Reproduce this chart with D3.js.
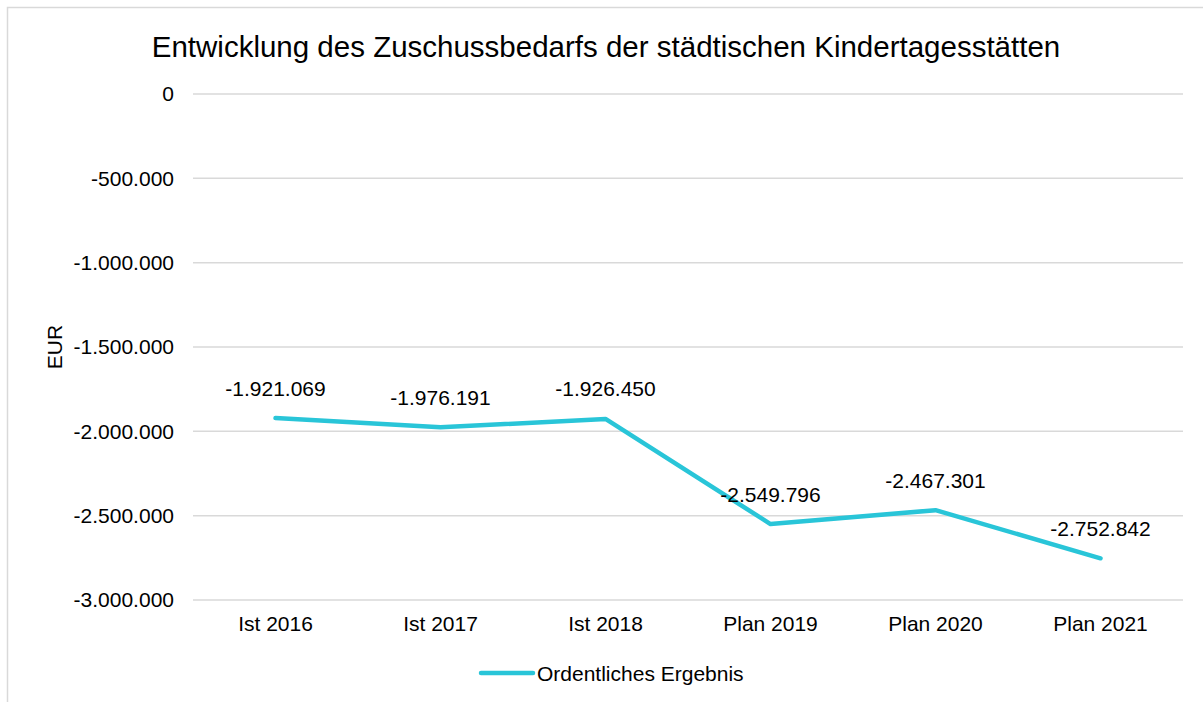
<!DOCTYPE html>
<html>
<head>
<meta charset="utf-8">
<script src="https://cdn.jsdelivr.net/npm/d3@7"></script>
<style>
  html, body { margin: 0; padding: 0; background: #fff; }
  svg text { font-family: "Liberation Sans", Arial, sans-serif; }
</style>
</head>
<body>
<svg id="chart" width="1203" height="702"></svg>
<script>
// Zuschussbedarf der städtischen Kindertagesstätten (EUR)
const categories = ["Ist 2016", "Ist 2017", "Ist 2018", "Plan 2019", "Plan 2020", "Plan 2021"];
const values = [-1921069, -1976191, -1926450, -2549796, -2467301, -2752842];
const yTicks = [0, -500000, -1000000, -1500000, -2000000, -2500000, -3000000];
const seriesName = "Ordentliches Ergebnis";
const titleText = "Entwicklung des Zuschussbedarfs der städtischen Kindertagesstätten";
const yAxisTitle = "EUR";

const svg = d3.select("#chart");
const W = 1203, H = 702;
const lineColor = "#29c5d8";
const fs = 21;

// German number format: dots for thousands
const de = d3.formatLocale({ decimal: ",", thousands: ".", grouping: [3], currency: ["", " €"], minus: "-" });
const fmt = de.format(",d");

// outer frame
svg.append("rect")
  .attr("x", 7.5).attr("y", 7.5)
  .attr("width", W + 10).attr("height", H + 10)
  .attr("fill", "#fff").attr("stroke", "#d9d9d9").attr("stroke-width", 1.5);

const plot = { left: 193, right: 1183, top: 94, bottom: 600 };

const x = d3.scaleBand().domain(categories).range([plot.left, plot.right]);
const y = d3.scaleLinear().domain([-3000000, 0]).range([plot.bottom, plot.top]);

// title
svg.append("text")
  .attr("x", 606).attr("y", 57)
  .attr("text-anchor", "middle")
  .attr("font-size", 29.5)
  .attr("fill", "#000")
  .text(titleText);

// gridlines
svg.append("g").selectAll("line")
  .data(yTicks).join("line")
  .attr("x1", plot.left).attr("x2", plot.right)
  .attr("y1", d => y(d)).attr("y2", d => y(d))
  .attr("stroke", "#d9d9d9").attr("stroke-width", 1.5);

// y axis labels
const yAxis = d3.axisLeft(y).tickValues(yTicks).tickFormat(d => fmt(d)).tickSize(0).tickPadding(19);
const gy = svg.append("g").attr("transform", `translate(${plot.left},0)`).call(yAxis);
gy.select(".domain").remove();
gy.selectAll("text").attr("font-size", fs).attr("fill", "#000")
  .attr("font-family", "Liberation Sans, Arial, sans-serif");

// x axis labels
const xAxis = d3.axisBottom(x).tickSize(0).tickPadding(16);
const gx = svg.append("g").attr("transform", `translate(0,${plot.bottom})`).call(xAxis);
gx.select(".domain").remove();
gx.selectAll("text").attr("font-size", fs).attr("fill", "#000")
  .attr("font-family", "Liberation Sans, Arial, sans-serif");

// y axis title
svg.append("text")
  .attr("transform", `translate(62,347) rotate(-90)`)
  .attr("text-anchor", "middle")
  .attr("font-size", fs).attr("fill", "#000")
  .text(yAxisTitle);

// series line
const pts = categories.map((c, i) => ({ c, v: values[i] }));
const line = d3.line().x(d => x(d.c) + x.bandwidth() / 2).y(d => y(d.v));
svg.append("path")
  .datum(pts)
  .attr("d", line)
  .attr("fill", "none")
  .attr("stroke", lineColor)
  .attr("stroke-width", 4.5)
  .attr("stroke-linecap", "round")
  .attr("stroke-linejoin", "round");

// value labels
svg.append("g").selectAll("text")
  .data(pts).join("text")
  .attr("x", d => x(d.c) + x.bandwidth() / 2)
  .attr("y", d => y(d.v) - 22.5)
  .attr("text-anchor", "middle")
  .attr("font-size", fs).attr("fill", "#000")
  .text(d => fmt(d.v));

// legend
const lg = svg.append("g");
lg.append("line")
  .attr("x1", 481).attr("x2", 533).attr("y1", 673).attr("y2", 673)
  .attr("stroke", lineColor).attr("stroke-width", 4.5).attr("stroke-linecap", "round");
lg.append("text")
  .attr("x", 537).attr("y", 681)
  .attr("font-size", fs).attr("fill", "#000")
  .text(seriesName);
</script>
</body>
</html>
